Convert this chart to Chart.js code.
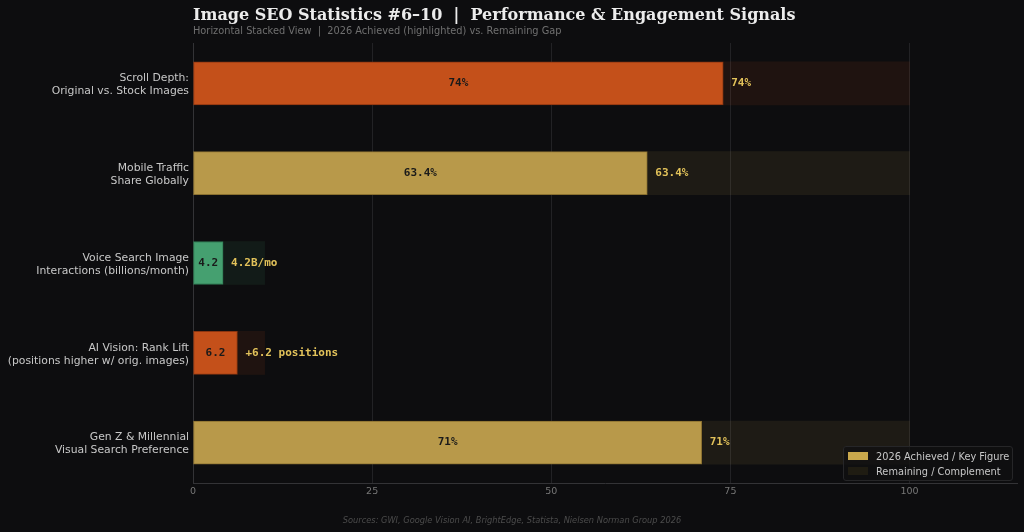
<!DOCTYPE html>
<html>
<head>
<meta charset="utf-8">
<script src="https://cdn.jsdelivr.net/npm/chart.js@4"></script>
<style>
  html, body { margin: 0; padding: 0; background: #0d0d0f; }
  #wrap { position: relative; width: 1024px; height: 532px; overflow: hidden; }
  #chart { position: absolute; left: 0; top: 0; }
  .title {
    position: absolute; left: 193px; top: 5px;
    font: bold 16px "DejaVu Serif", serif; color: #ececec; white-space: pre;
  }
  .subtitle {
    position: absolute; left: 193px; top: 25px;
    font: 9.8px "DejaVu Sans", sans-serif; color: #707070; white-space: pre;
  }
  .sources {
    position: absolute; left: 0; width: 1024px; top: 515px; text-align: center;
    font: italic 8.25px "DejaVu Sans", sans-serif; color: #4c4c4c;
  }
  .legend {
    position: absolute; left: 843px; top: 446px; width: 168px; height: 33px;
    background: rgba(16,16,18,0.75); border: 1px solid #262628; border-radius: 3px;
    font: 9.8px "DejaVu Sans", sans-serif; color: #c8c8c8;
  }
  .legend div { position: absolute; left: 4px; height: 14px; line-height: 14px; white-space: nowrap; }
  .legend span { display: inline-block; width: 20px; height: 8px; margin-right: 8px; }
</style>
</head>
<body>
<div id="wrap">
  <canvas id="chart" width="1024" height="532"></canvas>
  <div class="title">Image SEO Statistics #6–10  |  Performance &amp; Engagement Signals</div>
  <div class="subtitle">Horizontal Stacked View  |  2026 Achieved (highlighted) vs. Remaining Gap</div>
  <div class="sources">Sources: GWI, Google Vision AI, BrightEdge, Statista, Nielsen Norman Group 2026</div>
  <div class="legend">
    <div style="top:3px"><span style="background:#c9a84c"></span>2026 Achieved / Key Figure</div>
    <div style="top:18px"><span style="background:#1f1c12"></span>Remaining / Complement</div>
  </div>
</div>
<script>
// ── data ────────────────────────────────────────────────────────────────────
const categories = [
  ['Scroll Depth:', 'Original vs. Stock Images'],
  ['Mobile Traffic', 'Share Globally'],
  ['Voice Search Image', 'Interactions (billions/month)'],
  ['AI Vision: Rank Lift', '(positions higher w/ orig. images)'],
  ['Gen Z & Millennial', 'Visual Search Preference'],
];
const achieved   = [74, 63.4, 4.2, 6.2, 71];
const remaining  = [26, 36.6, 5.8, 3.8, 29];
const innerText  = ['74%', '63.4%', '4.2', '6.2', '71%'];
const outerText  = ['74%', '63.4%', '4.2B/mo', '+6.2 positions', '71%'];
const xTicks     = [0, 25, 50, 75, 100];

// colour per row: orange / gold / green
const ORANGE = '#c4501a', GOLD = '#b8994a', GREEN = '#45a070';
const rowColor  = [ORANGE, GOLD, GREEN, ORANGE, GOLD];
const rowBorder = ['#8a3510', '#8a7030', '#2f7a52', '#8a3510', '#8a7030'];

function hexA(hex, a) {
  const r = parseInt(hex.slice(1, 3), 16);
  const g = parseInt(hex.slice(3, 5), 16);
  const b = parseInt(hex.slice(5, 7), 16);
  return `rgba(${r},${g},${b},${a})`;
}

// draws the value labels inside and right of the achieved bars
const barLabels = {
  id: 'barLabels',
  afterDatasetsDraw(chart) {
    const { ctx } = chart;
    const meta = chart.getDatasetMeta(0);
    ctx.save();
    ctx.font = 'bold 11px "DejaVu Sans Mono", monospace';
    ctx.textBaseline = 'middle';
    meta.data.forEach((bar, i) => {
      ctx.fillStyle = '#1a1a1a';
      ctx.textAlign = 'center';
      ctx.fillText(innerText[i], (bar.x + bar.base) / 2, bar.y);
      ctx.fillStyle = '#e2c25a';
      ctx.textAlign = 'left';
      ctx.fillText(outerText[i], bar.x + 8, bar.y);
    });
    ctx.restore();
  },
};

new Chart(document.getElementById('chart'), {
  type: 'bar',
  data: {
    datasets: [
      {
        label: '2026 Achieved / Key Figure',
        data: achieved.map((v, i) => ({ x: v, y: i })),
        backgroundColor: rowColor,
        borderColor: rowBorder,
        borderWidth: 1,
        borderSkipped: false,
        barThickness: 43,
      },
      {
        label: 'Remaining / Complement',
        data: remaining.map((v, i) => ({ x: v, y: i })),
        backgroundColor: rowColor.map((c) => hexA(c, 0.1)),
        borderWidth: 0,
        barThickness: 43,
      },
    ],
  },
  options: {
    indexAxis: 'y',
    responsive: false,
    animation: false,
    layout: { padding: { left: 0, right: 7, top: 43, bottom: 0 } },
    plugins: { legend: { display: false }, tooltip: { enabled: false } },
    scales: {
      x: {
        type: 'linear',
        stacked: true,
        min: 0,
        max: 115,
        afterBuildTicks: (s) => { s.ticks = xTicks.map((v) => ({ value: v })); },
        afterFit: (s) => { s.height = 49; },
        ticks: { color: '#777', font: { family: 'DejaVu Sans', size: 9.5 }, padding: 3 },
        grid: { color: '#222225', drawTicks: false },
        border: { color: '#333336' },
      },
      y: {
        type: 'linear',
        stacked: true,
        reverse: true,
        offset: false,
        min: -0.45,
        max: 4.45,
        afterBuildTicks: (s) => { s.ticks = categories.map((c, i) => ({ value: i })); },
        afterFit: (s) => { s.width = 193; },
        ticks: {
          color: '#c8c8c8',
          font: { family: 'DejaVu Sans', size: 10.8, lineHeight: 1.2 },
          padding: 4,
          labelOffset: 1.5,
          callback: (v) => categories[v],
        },
        grid: { display: false, drawTicks: false },
        border: { color: '#333336' },
      },
    },
  },
  plugins: [barLabels],
});
</script>
</body>
</html>
